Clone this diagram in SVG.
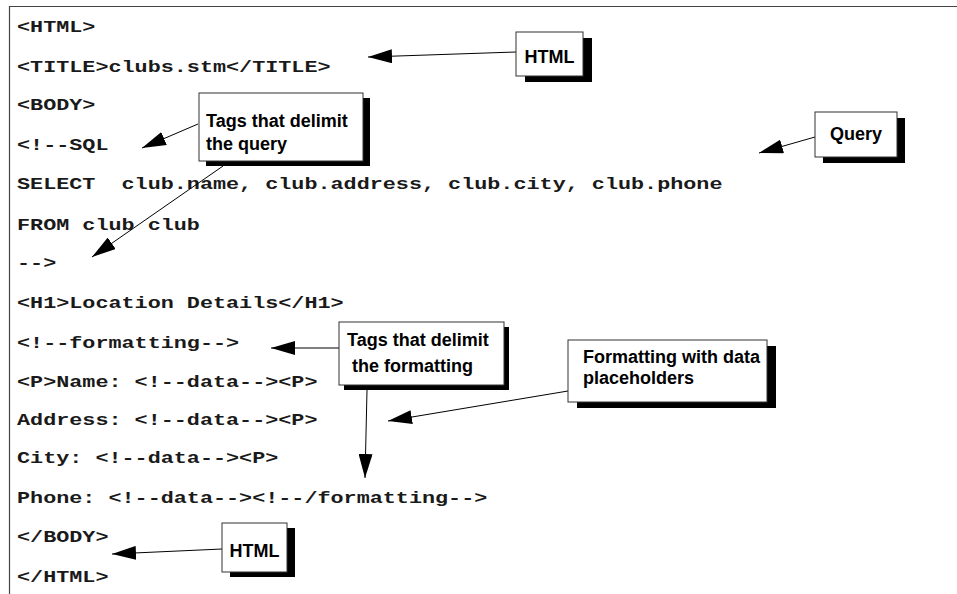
<svg xmlns="http://www.w3.org/2000/svg" width="957" height="594" viewBox="0 0 957 594">
<style>
.code{font-family:"Liberation Mono","DejaVu Sans Mono",monospace;font-weight:bold;font-size:16.5px;fill:#1a1a1a}
.lbl{font-family:"Liberation Sans",Arial,sans-serif;font-weight:bold;font-size:18px;fill:#000}
.box{fill:#fff;stroke:#333;stroke-width:1}
.shadow{fill:#000}
.conn{stroke:#000;stroke-width:1;fill:none;marker-end:url(#ah)}
</style>
<defs>
<marker id="ah" viewBox="0 0 24 14" refX="24" refY="7" markerWidth="24" markerHeight="14" markerUnits="userSpaceOnUse" orient="auto">
<path d="M0,0 L24,7 L0,14 z" fill="#000"/>
</marker>
</defs>
<rect width="957" height="594" fill="#fff"/>
<g id="frame" stroke="#444" stroke-width="1.2" fill="none">
<path d="M9.5,594 L9.5,6.5 L957,6.5"/>
</g>
<g id="code" transform="scale(1.32,1)">
<text class="code" x="12.88" y="32">&lt;HTML&gt;</text>
<text class="code" x="12.88" y="72">&lt;TITLE&gt;clubs.stm&lt;/TITLE&gt;</text>
<text class="code" x="12.88" y="110">&lt;BODY&gt;</text>
<text class="code" x="12.88" y="150">&lt;!--SQL</text>
<text class="code" x="12.88" y="189" xml:space="preserve">SELECT  club.name, club.address, club.city, club.phone</text>
<text class="code" x="12.88" y="230">FROM club club</text>
<text class="code" x="12.88" y="268">--&gt;</text>
<text class="code" x="12.88" y="308">&lt;H1&gt;Location Details&lt;/H1&gt;</text>
<text class="code" x="12.88" y="348">&lt;!--formatting--&gt;</text>
<text class="code" x="12.88" y="387">&lt;P&gt;Name: &lt;!--data--&gt;&lt;P&gt;</text>
<text class="code" x="12.88" y="425">Address: &lt;!--data--&gt;&lt;P&gt;</text>
<text class="code" x="12.88" y="463">City: &lt;!--data--&gt;&lt;P&gt;</text>
<text class="code" x="12.88" y="503">Phone: &lt;!--data--&gt;&lt;!--/formatting--&gt;</text>
<text class="code" x="12.88" y="542">&lt;/BODY&gt;</text>
<text class="code" x="12.88" y="582">&lt;/HTML&gt;</text>
</g>
<g id="connectors">
<line class="conn" x1="516" y1="52" x2="368" y2="57"/>
<line class="conn" x1="198" y1="124" x2="142" y2="148"/>
<line class="conn" x1="223" y1="166" x2="92" y2="257"/>
<line class="conn" x1="815" y1="137" x2="759" y2="153"/>
<line class="conn" x1="339" y1="348" x2="271" y2="348"/>
<line class="conn" x1="367" y1="390" x2="365" y2="478"/>
<line class="conn" x1="568" y1="391" x2="388" y2="421"/>
<line class="conn" x1="222" y1="549" x2="112" y2="554"/>
</g>
<g id="html-top">
<rect class="shadow" x="525" y="38" width="67" height="44"/>
<rect class="box" x="516" y="32" width="67" height="44"/>
<text class="lbl" x="549.5" y="63" text-anchor="middle">HTML</text>
</g>
<g id="tags-query">
<rect class="shadow" x="206" y="98" width="164" height="68"/>
<rect class="box" x="199" y="93" width="164" height="68"/>
<text class="lbl" x="206" y="127">Tags that delimit</text>
<text class="lbl" x="206" y="150">the query</text>
</g>
<g id="query">
<rect class="shadow" x="823" y="118" width="82" height="45"/>
<rect class="box" x="815" y="112" width="82" height="45"/>
<text class="lbl" x="856" y="140" text-anchor="middle">Query</text>
</g>
<g id="tags-format">
<rect class="shadow" x="344" y="327" width="165" height="63"/>
<rect class="box" x="339" y="322" width="165" height="63"/>
<text class="lbl" x="347" y="346">Tags that delimit</text>
<text class="lbl" x="352" y="372">the formatting</text>
</g>
<g id="format-data">
<rect class="shadow" x="577" y="346" width="199" height="62"/>
<rect class="box" x="568" y="340" width="199" height="62"/>
<text class="lbl" x="583" y="363">Formatting with data</text>
<text class="lbl" x="583" y="384">placeholders</text>
</g>
<g id="html-bottom">
<rect class="shadow" x="230" y="528" width="65" height="49"/>
<rect class="box" x="222" y="523" width="65" height="49"/>
<text class="lbl" x="254.5" y="557" text-anchor="middle">HTML</text>
</g>
</svg>
